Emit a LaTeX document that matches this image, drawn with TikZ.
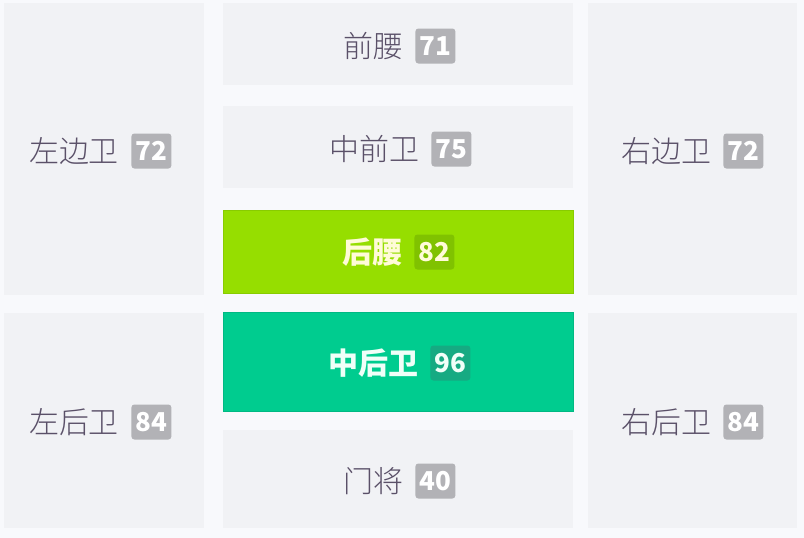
\documentclass[tikz,border=0pt]{standalone}
\usepackage{fontspec}
\setmainfont{Noto Sans CJK SC}
\newfontfamily\thincjk{Noto Sans CJK SC Light}
\usetikzlibrary{positioning}
\usepackage{xcolor}
\definecolor{pagebg}{HTML}{F8F9FC}
\definecolor{cellgray}{HTML}{F1F2F5}
\definecolor{txtgray}{HTML}{5A5068}
\definecolor{badgegray}{HTML}{B2B2B6}
\definecolor{limefill}{HTML}{96DE00}
\definecolor{limeline}{HTML}{88CC00}
\definecolor{limebadge}{HTML}{80C200}
\definecolor{tealfill}{HTML}{00CC8F}
\definecolor{tealline}{HTML}{00B983}
\definecolor{tealbadge}{HTML}{16AA82}
\definecolor{paletxt}{HTML}{FFFBD8}
\definecolor{mintxt}{HTML}{F0FFF8}

\tikzset{
  cell/.style={fill=cellgray, inner sep=0pt, outer sep=0pt},
  postxt/.style={inner sep=0pt, text=txtgray, font=\thincjk\fontsize{30}{36}\selectfont},
  badge/.style={fill=badgegray, rounded corners=3pt, inner sep=0pt, minimum width=40pt, minimum height=35pt, text=white, font=\fontsize{26}{30}\selectfont\bfseries},
  hot/.style={inner sep=0pt, text=paletxt, font=\fontsize{30}{36}\selectfont\bfseries}
}

\begin{document}
\begin{tikzpicture}[x=1pt, y=-1pt]
	\fill[pagebg] (0,0) rectangle (804,538);
	\useasboundingbox (0,0) rectangle (804,538);

	% side cells
	\node[cell, minimum width=200pt, minimum height=292pt] (lb) at (104,149) {};
	\node[cell, minimum width=200pt, minimum height=215pt] (lcb) at (104,420.5) {};
	\node[cell, minimum width=209pt, minimum height=292pt] (rb) at (692.5,149) {};
	\node[cell, minimum width=209pt, minimum height=215pt] (rcb) at (692.5,420.5) {};

	% middle column
	\node[cell, minimum width=350pt, minimum height=82pt] (am) at (398,44) {};
	\node[cell, minimum width=350pt, minimum height=82pt] (cm) at (398,147) {};
	\node[cell, minimum width=350pt, minimum height=83pt, fill=limefill, draw=limeline] (dm) at (398,251.5) {};
	\node[cell, minimum width=350pt, minimum height=99pt, fill=tealfill, draw=tealline] (cb) at (398,361.5) {};
	\node[cell, minimum width=350pt, minimum height=98pt] (gk) at (398,479) {};

	% labels
	\node[postxt] (lbtxt) at (74,151) {左边卫};
	\node[badge, right=12pt of lbtxt] (lbnum) {72};
	\node[postxt] (lcbtxt) at (74,422) {左后卫};
	\node[badge, right=12pt of lcbtxt] (lcbnum) {84};
	\node[postxt] (rbtxt) at (666,151) {右边卫};
	\node[badge, right=12pt of rbtxt] (rbnum) {72};
	\node[postxt] (rcbtxt) at (666,422) {右后卫};
	\node[badge, right=12pt of rcbtxt] (rcbnum) {84};

	\node[postxt] (amtxt) at (373,46) {前腰};
	\node[badge, right=12pt of amtxt] (amnum) {71};
	\node[postxt] (cmtxt) at (374,149) {中前卫};
	\node[badge, right=12pt of cmtxt] (cmnum) {75};
	\node[hot] (dmtxt) at (372,252) {后腰};
	\node[badge, fill=limebadge, text=paletxt, right=12pt of dmtxt] (dmnum) {82};
	\node[hot, text=mintxt] (cbtxt) at (373,363) {中后卫};
	\node[badge, fill=tealbadge, text=mintxt, right=12pt of cbtxt] (cbnum) {96};
	\node[postxt] (gktxt) at (373,481) {门将};
	\node[badge, right=12pt of gktxt] (gknum) {40};
\end{tikzpicture}
\end{document}
